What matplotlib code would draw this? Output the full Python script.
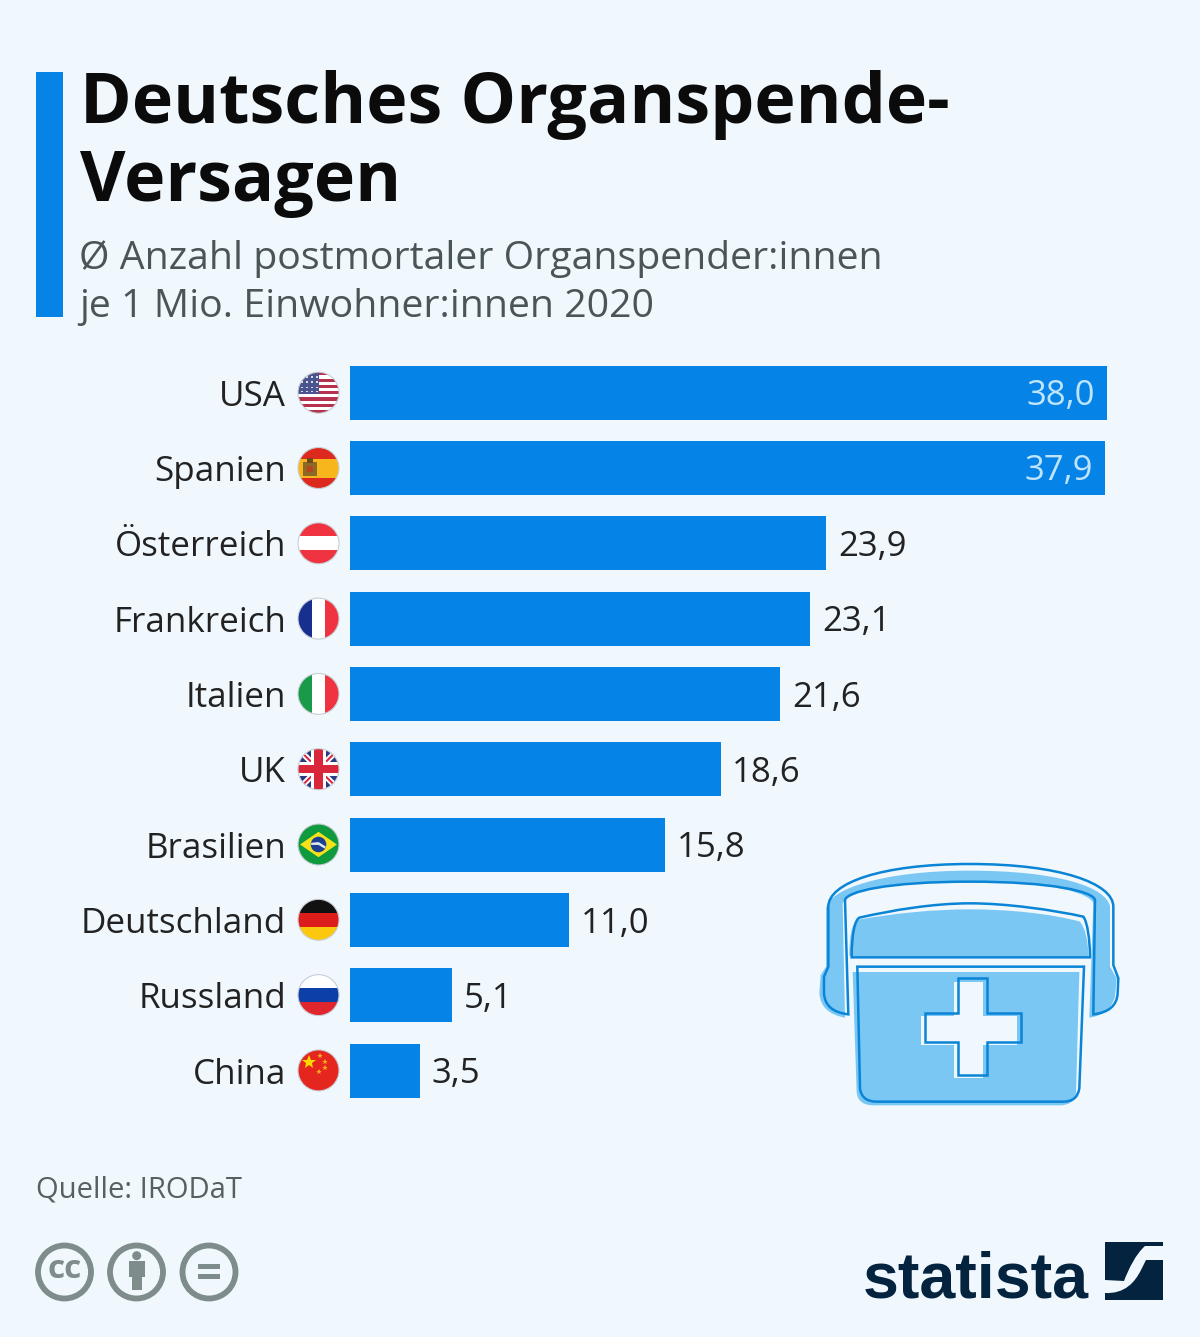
import matplotlib
matplotlib.use("Agg")
import matplotlib.pyplot as plt
from matplotlib.patches import Rectangle, Circle, PathPatch, Polygon
from matplotlib.path import Path

plt.rcParams['font.family'] = ['Open Sans', 'DejaVu Sans']

# data
laender = ["USA", "Spanien", "Österreich", "Frankreich", "Italien", "UK",
           "Brasilien", "Deutschland", "Russland", "China"]
werte = [38.0, 37.9, 23.9, 23.1, 21.6, 18.6, 15.8, 11.0, 5.1, 3.5]
flaggen = ["us", "es", "at", "fr", "it", "uk", "br", "de", "ru", "cn"]

titel = ["Deutsches Organspende-", "Versagen"]
untertitel = ["Ø Anzahl postmortaler Organspender:innen",
              "je 1 Mio. Einwohner:innen 2020"]
quelle = "Quelle: IRODaT"

BG = "#f0f8fe"
BLAU = "#0583e6"
W, H = 1200, 1337

fig = plt.figure(figsize=(W / 100, H / 100), dpi=100, facecolor=BG)

# overlay in pixel coordinates for everything around the chart
bg = fig.add_axes([0, 0, 1, 1])
bg.set_xlim(0, W)
bg.set_ylim(H, 0)
bg.axis("off")

bg.add_patch(Rectangle((36, 72), 27, 245, color=BLAU, lw=0))
bg.text(79.5, 123, titel[0], fontsize=50.4, fontweight="bold", color="#0b0b0b")
bg.text(80, 201, titel[1], fontsize=50.4, fontweight="bold", color="#0b0b0b")
bg.text(79, 269.5, untertitel[0], fontsize=28.25, color="#4a5558")
bg.text(79, 317.5, untertitel[1], fontsize=28.25, color="#4a5558")
bg.text(36, 1198, quelle, fontsize=21.1, color="#55605f")

# bars
ax = fig.add_axes([350 / W, 1 - 1108.5 / H, 757 / W, 753.5 / H])
ax.patch.set_alpha(0)
pos = list(range(len(laender)))
balken = ax.barh(pos, werte, height=0.717, color=BLAU)
ax.set_xlim(0, 38)
ax.set_ylim(9.5, -0.5)
ax.set_yticks(pos, laender)
ax.tick_params(axis="y", length=0, pad=46, labelsize=25.2, labelcolor="#222222")
ax.xaxis.set_visible(False)
for s in ax.spines.values():
    s.set_visible(False)

for i, v in enumerate(werte):
    txt = f"{v:.1f}".replace(".", ",")
    if v > 30:
        ax.annotate(txt, (v, i), xytext=(-9, -2.5), textcoords="offset points",
                    ha="right", va="center", fontsize=25, color="#bfe4fd")
    else:
        ax.annotate(txt, (v, i), xytext=(8.5, -2.5), textcoords="offset points",
                    ha="left", va="center", fontsize=25, color="#222222")


# flags
def flagge(code, cx, cy, r=20.5):
    clip = Circle((cx, cy), r, transform=bg.transData)
    teile = []

    def rect(x0, y0, x1, y1, c):
        p = Rectangle((cx + x0 * r, cy + y0 * r), (x1 - x0) * r, (y1 - y0) * r, color=c, lw=0)
        teile.append(p)

    def poly(pts, c, lw=0):
        p = Polygon([(cx + a * r, cy + b * r) for a, b in pts], closed=True, color=c, lw=lw)
        teile.append(p)

    rect(-1, -1, 1, 1, "white")
    if code == "us":
        for k in range(7):
            y = -1 + k * 2 / 6.5
            rect(-1, y, 1, y + 1 / 6.5, "#b5334f")
        rect(-1, -1, 0, 0.05, "#4a5590")
        for a in [-0.85, -0.6, -0.35, -0.12]:
            for b in [-0.8, -0.55, -0.3, -0.1]:
                rect(a, b, a + 0.09, b + 0.09, "#d8dcec")
    elif code == "es":
        rect(-1, -1, 1, -0.45, "#dd2a1f")
        rect(-1, -0.45, 1, 0.5, "#f7b71c")
        rect(-1, 0.5, 1, 1, "#dd2a1f")
        rect(-0.78, -0.3, -0.05, 0.4, "#8a6a25")
        rect(-0.55, -0.5, -0.25, -0.25, "#6d4a1c")
        rect(-0.55, -0.1, -0.25, 0.2, "#b8431f")
    elif code == "at":
        rect(-1, -1, 1, -0.35, "#ef3340")
        rect(-1, 0.35, 1, 1, "#ef3340")
    elif code == "fr":
        rect(-1, -1, -0.33, 1, "#17308f")
        rect(0.33, -1, 1, 1, "#ef3340")
    elif code == "it":
        rect(-1, -1, -0.33, 1, "#189a49")
        rect(0.33, -1, 1, 1, "#ef3340")
    elif code == "uk":
        rect(-1, -1, 1, 1, "#2b3a80")
        poly([(-1, -0.8), (-0.8, -1), (1, 0.8), (0.8, 1)], "white")
        poly([(1, -0.8), (0.8, -1), (-1, 0.8), (-0.8, 1)], "white")
        poly([(-1, -0.93), (-0.93, -1), (1, 0.93), (0.93, 1)], "#d9263a")
        poly([(1, -0.93), (0.93, -1), (-1, 0.93), (-0.93, 1)], "#d9263a")
        rect(-0.35, -1, 0.35, 1, "white")
        rect(-1, -0.35, 1, 0.35, "white")
        rect(-0.2, -1, 0.2, 1, "#d9263a")
        rect(-1, -0.2, 1, 0.2, "#d9263a")
    elif code == "br":
        rect(-1, -1, 1, 1, "#0f9a3e")
        poly([(-0.9, 0), (0, -0.62), (0.9, 0), (0, 0.62)], "#f6e21b")
        teile.append(Circle((cx, cy), 0.38 * r, color="#1c3f94", lw=0))
        poly([(-0.36, -0.08), (0, -0.12), (0.36, 0.1), (0.3, 0.2), (0, 0.02), (-0.36, 0.02)], "#dfe8ee")
    elif code == "de":
        rect(-1, -1, 1, -0.33, "#111111")
        rect(-1, -0.33, 1, 0.33, "#dd1c1c")
        rect(-1, 0.33, 1, 1, "#fcc80d")
    elif code == "ru":
        rect(-1, -0.33, 1, 0.33, "#0c3fa8")
        rect(-1, 0.33, 1, 1, "#e0262d")
    elif code == "cn":
        rect(-1, -1, 1, 1, "#e5261f")
        bg.plot([cx - 0.45 * r], [cy - 0.4 * r], marker="*", ms=10, color="#fcd900", mew=0, zorder=4)
        for a, b in [(0.05, -0.72), (0.32, -0.42), (0.3, -0.1), (0.03, 0.1)]:
            bg.plot([cx + a * r], [cy + b * r], marker="*", ms=4, color="#f5b020", mew=0, zorder=4)

    for p in teile:
        bg.add_patch(p)
        p.set_clip_path(clip)
    bg.add_patch(Circle((cx, cy), r, fill=False, ec="#c9ced6", lw=0.8, zorder=5))


for i, code in enumerate(flaggen):
    flagge(code, 318.5, 392.7 + i * 75.3)


# cooler icon, traced in coordinates of a 3x crop starting at (800, 850)
def zpfad(cmds, dx=0, dy=0):
    verts, codes = [], []
    for c, *pts in cmds:
        for k in range(0, len(pts), 2):
            verts.append((800 + (pts[k] + dx) / 3, 850 + (pts[k + 1] + dy) / 3))
        codes += {"M": [Path.MOVETO], "L": [Path.LINETO], "Q": [Path.CURVE3, Path.CURVE3],
                  "C": [Path.CURVE4, Path.CURVE4, Path.CURVE4]}[c]
    verts.append(verts[0])
    codes.append(Path.CLOSEPOLY)
    return Path(verts, codes)


griff = [("M", 145, 493), ("Q", 75, 485, 72, 430), ("L", 72, 380), ("L", 85, 350), ("L", 85, 170),
         ("C", 85, 100, 240, 42, 510, 42), ("C", 780, 42, 940, 100, 940, 170), ("L", 940, 345),
         ("L", 955, 385), ("L", 953, 430), ("Q", 950, 485, 880, 493), ("L", 885, 150),
         ("C", 880, 125, 760, 95, 510, 95), ("C", 260, 95, 140, 125, 135, 150)]
deckel = [("M", 155, 322), ("C", 155, 250, 165, 210, 178, 203), ("C", 280, 180, 400, 160, 510, 160),
          ("C", 620, 160, 760, 180, 850, 200), ("C", 862, 215, 870, 270, 870, 322)]
korpus = [("M", 172, 350), ("L", 852, 350), ("L", 838, 715), ("Q", 832, 755, 790, 755),
          ("L", 230, 755), ("Q", 185, 755, 180, 715)]
kreuz = [("M", 475, 385), ("L", 560, 385), ("L", 560, 488), ("L", 662, 488), ("L", 662, 575),
         ("L", 560, 575), ("L", 560, 675), ("L", 475, 675), ("L", 475, 575), ("L", 375, 575),
         ("L", 375, 488), ("L", 475, 488)]

# the fill sits a little off the outline, as in a misprint
griff_fill = [("M", 135, 503), ("Q", 62, 490, 58, 430), ("L", 62, 375), ("L", 78, 350), ("L", 78, 175),
              ("C", 85, 120, 240, 62, 510, 62), ("C", 770, 62, 920, 110, 930, 170), ("L", 930, 350),
              ("L", 950, 385), ("L", 945, 440), ("Q", 930, 495, 868, 503), ("L", 880, 160),
              ("C", 870, 130, 760, 95, 510, 95), ("C", 260, 95, 145, 125, 128, 160)]
deckel_fill = [("M", 148, 318), ("C", 148, 260, 155, 225, 170, 210), ("C", 280, 190, 400, 178, 510, 178),
               ("C", 620, 178, 750, 190, 840, 215), ("C", 855, 235, 865, 270, 865, 318)]
korpus_fill = [("M", 158, 366), ("L", 838, 366), ("L", 828, 730), ("Q", 822, 766, 780, 766),
               ("L", 220, 766), ("Q", 175, 766, 170, 728)]

HELL = "#7bc7f4"
LINIE = "#0a84d6"
for teil in [griff_fill, deckel_fill, korpus_fill]:
    bg.add_patch(PathPatch(zpfad(teil), fc=HELL, ec="none", zorder=3))
bg.add_patch(PathPatch(zpfad(kreuz, -12, 10), fc=BG, ec="none", zorder=3))
for teil in [griff, deckel, korpus, kreuz]:
    bg.add_patch(PathPatch(zpfad(teil), fc="none", ec=LINIE, lw=1.8, zorder=4))

# cc icons
GRAU = "#7f8c8c"
for x in [64.5, 136.5, 209]:
    bg.add_patch(Circle((x, 1272), 26.5, fc="none", ec=GRAU, lw=4.2))
bg.text(64.5, 1270, "cc", fontsize=24, fontweight="bold", color=GRAU, ha="center", va="center")
bg.add_patch(Circle((136.7, 1255.7), 4.5, color=GRAU, lw=0))
bg.add_patch(Rectangle((128.7, 1261), 16, 16, color=GRAU, lw=0))
bg.add_patch(Rectangle((131.7, 1276), 10, 14, color=GRAU, lw=0))
bg.add_patch(Rectangle((198, 1264), 22, 5, color=GRAU, lw=0))
bg.add_patch(Rectangle((198, 1274), 22, 5, color=GRAU, lw=0))

# statista logo
NAVY = "#03233f"
bg.text(863, 1298, "statista", fontsize=46.5, family=["Liberation Sans", "DejaVu Sans"],
        fontweight="bold", color=NAVY)
bg.add_patch(PathPatch(Path(
    [(1105, 1242), (1163, 1242), (1163, 1246), (1145, 1246), (1136, 1254), (1129, 1268),
     (1124, 1281), (1105, 1280), (1105, 1242)],
    [Path.MOVETO, Path.LINETO, Path.LINETO, Path.LINETO, Path.CURVE4, Path.CURVE4, Path.CURVE4,
     Path.LINETO, Path.CLOSEPOLY]),
    fc=NAVY, ec="none"))
bg.add_patch(PathPatch(Path(
    [(1163, 1260), (1163, 1300), (1105, 1300), (1105, 1293), (1125, 1294), (1135, 1282), (1141, 1270),
     (1146, 1260), (1163, 1260)],
    [Path.MOVETO, Path.LINETO, Path.LINETO, Path.LINETO, Path.CURVE4, Path.CURVE4, Path.CURVE4,
     Path.LINETO, Path.CLOSEPOLY]),
    fc=NAVY, ec="none"))

fig.savefig("out.png", dpi=100, facecolor=BG)
